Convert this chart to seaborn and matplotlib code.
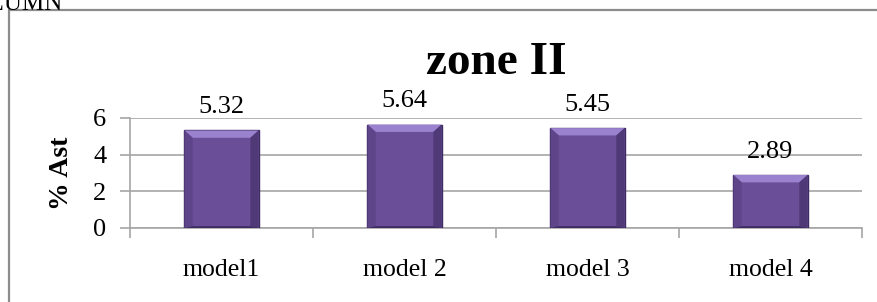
import numpy as np
import pandas as pd
import matplotlib
matplotlib.use("Agg")
import matplotlib.pyplot as plt
from matplotlib.patches import Polygon
from matplotlib.lines import Line2D
import seaborn as sns

# data
models = ["model1", "model 2", "model 3", "model 4"]
ast_pct = [5.32, 5.64, 5.45, 2.89]
y_ticks = [0, 2, 4, 6]

df = pd.DataFrame({"model": models, "ast": ast_pct})

sns.set_style("white")
plt.rcParams["font.family"] = ["Liberation Serif", "DejaVu Serif"]
plt.rcParams["text.color"] = "black"
plt.rcParams["xtick.labelcolor"] = "black"
plt.rcParams["ytick.labelcolor"] = "black"
plt.rcParams["axes.labelcolor"] = "black"

fig = plt.figure(figsize=(8.77, 3.02), dpi=100)
ax = fig.add_axes([130 / 877, 1 - 228 / 302, 732 / 877, 110 / 302])

sns.barplot(data=df, x="model", y="ast", color="#6a4e97", width=0.405,
            edgecolor="#3e2b61", linewidth=1.0, saturation=1, ax=ax, zorder=3)

# light bevel on top of each bar and darker side shading
for p in ax.patches:
    x0, w, h = p.get_x(), p.get_width(), p.get_height()
    d = 0.045 * w / 0.405
    dy = 0.4
    top = Polygon([[x0, h], [x0 + w, h], [x0 + w - d, h - dy], [x0 + d, h - dy]],
                  closed=True, facecolor="#9b82cf", edgecolor="none", zorder=4)
    left = Polygon([[x0, h], [x0 + d, h - dy], [x0 + d, 0.1], [x0, 0]],
                   closed=True, facecolor="#5e4488", edgecolor="none", zorder=4)
    right = Polygon([[x0 + w, h], [x0 + w - d, h - dy], [x0 + w - d, 0.1], [x0 + w, 0]],
                    closed=True, facecolor="#4f3977", edgecolor="none", zorder=4)
    bottom = Polygon([[x0, 0], [x0 + d, 0.1], [x0 + w - d, 0.1], [x0 + w, 0]],
                     closed=True, facecolor="#3e2b61", edgecolor="none", zorder=4)
    for poly in (top, left, right, bottom):
        ax.add_patch(poly)
    ax.annotate(f"{h:.2f}", (x0 + w / 2, h), xytext=(0, 9), textcoords="offset points",
                ha="center", va="bottom", fontsize=19, color="black")

ax.set_ylim(0, 6)
ax.set_xlim(-0.5, 3.5)
ax.set_yticks(y_ticks)
ax.set_yticklabels([str(t) for t in y_ticks], fontsize=19)
ax.yaxis.grid(True, color="#a6a6a6", linewidth=1.2, zorder=0)
ax.set_axisbelow(True)
ax.tick_params(axis="y", length=7, color="#a6a6a6", width=1.2, left=True, pad=10)

# category boundary ticks on x axis
ax.set_xticks([-0.5, 0.5, 1.5, 2.5, 3.5], minor=False)
ax.set_xticklabels([""] * 5)
ax.set_xticks([0, 1, 2, 3], minor=True)
ax.set_xticklabels(models, minor=True, fontsize=18.5)
ax.tick_params(axis="x", which="major", length=7, color="#a6a6a6", width=1.2, bottom=True, direction="out")
ax.tick_params(axis="x", which="minor", length=0, pad=22)

for s in ["top", "right"]:
    ax.spines[s].set_visible(False)
for s in ["left", "bottom"]:
    ax.spines[s].set_color("#a6a6a6")
    ax.spines[s].set_linewidth(1.2)

ax.set_xlabel("")
ax.set_ylabel("% Ast", fontsize=20, fontweight="bold", labelpad=14)
ax.set_title("zone II", fontsize=34, fontweight="bold", pad=32, color="black")

# outer chart frame (cut at right and bottom)
fig.add_artist(Line2D([8.5 / 877, 1.0], [1 - 9.5 / 302, 1 - 9.5 / 302], color="#8c8c8c", linewidth=1.6))
fig.add_artist(Line2D([8.5 / 877, 8.5 / 877], [0, 1 - 9.5 / 302], color="#8c8c8c", linewidth=1.6))

# leftover text from the document above the chart
fig.text(-0.052, 1.022, "COLUMN", fontsize=18, ha="left", va="top")

fig.savefig("out.png", dpi=100)
